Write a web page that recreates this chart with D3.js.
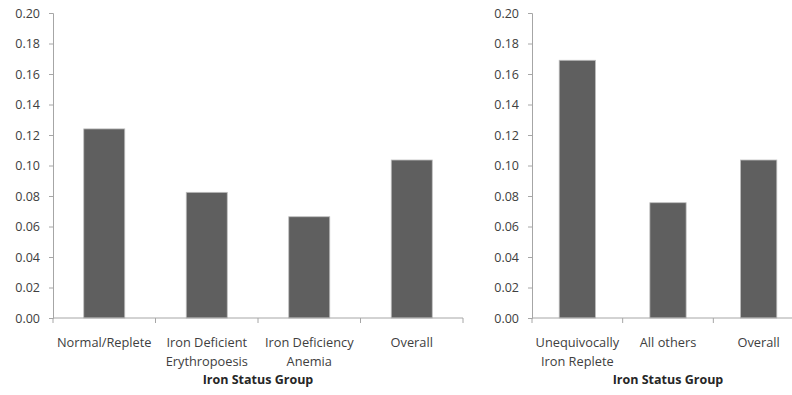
<!DOCTYPE html>
<html><head><meta charset="utf-8">
<script src="https://cdn.jsdelivr.net/npm/d3@7/dist/d3.min.js"></script>
<style>body{margin:0;background:#fff}svg{display:block}</style>
</head><body>
<svg id="c" width="792" height="395"></svg>
<script>
const leftCategories = [["Normal/Replete"],["Iron Deficient","Erythropoesis"],["Iron Deficiency","Anemia"],["Overall"]];
const leftValues = [0.124, 0.0824, 0.0664, 0.1036];
const rightCategories = [["Unequivocally","Iron Replete"],["All others"],["Overall"]];
const rightValues = [0.169, 0.0756, 0.1036];
const yTicks = [0,0.02,0.04,0.06,0.08,0.10,0.12,0.14,0.16,0.18,0.20];
const xTitle = "Iron Status Group";

const svg = d3.select("#c");
const font = "'Open Sans', sans-serif";
const axisColor = "#a6a6a6";
const textColor = "#404040";

function panel(cats, vals, x0, x1) {
  const y = d3.scaleLinear().domain([0,0.2]).range([318,13]);
  const x = d3.scaleBand().domain(d3.range(cats.length)).range([x0,x1]).paddingInner(0.6).paddingOuter(0.3);
  const g = svg.append("g");
  const ya = g.append("g").attr("transform",`translate(${x0},0)`)
    .call(d3.axisLeft(y).tickValues(yTicks).tickFormat(d3.format(".2f")).tickSize(4).tickPadding(9));
  ya.select(".domain").attr("stroke",axisColor);
  ya.selectAll(".tick line").attr("stroke",axisColor);
  ya.selectAll("text").attr("fill",textColor).style("font-family",font).style("font-size","12.5px");
  g.selectAll("rect.bar").data(vals).join("rect").attr("class","bar")
    .attr("x",(d,i)=>x(i)).attr("width",x.bandwidth())
    .attr("y",d=>y(d)).attr("height",d=>y(0)-y(d))
    .attr("fill","#5f5f5f").attr("stroke","#bdbdbd").attr("stroke-width",0.8);
  g.append("line").attr("x1",x0).attr("x2",x1).attr("y1",y(0)).attr("y2",y(0)).attr("stroke",axisColor);
  const step = x.step();
  const bounds = d3.range(cats.length+1).map(i=>x0+i*step);
  g.selectAll("line.xt").data(bounds).join("line").attr("class","xt")
    .attr("x1",d=>d).attr("x2",d=>d).attr("y1",y(0)).attr("y2",y(0)+5).attr("stroke",axisColor);
  cats.forEach((lines,i)=>{
    const cx = x(i)+x.bandwidth()/2;
    lines.forEach((l,j)=>{
      g.append("text").attr("x",cx).attr("y",347+j*19).attr("text-anchor","middle")
        .attr("fill",textColor).style("font-family",font).style("font-size","12.8px").text(l);
    });
  });
  g.append("text").attr("x",(x0+x1)/2).attr("y",384).attr("text-anchor","middle")
    .attr("fill","#262626").style("font-family",font).style("font-size","12.5px").style("font-weight","bold").text(xTitle);
}
panel(leftCategories, leftValues, 53, 463);
panel(rightCategories, rightValues, 532, 804);
</script>
</body></html>
